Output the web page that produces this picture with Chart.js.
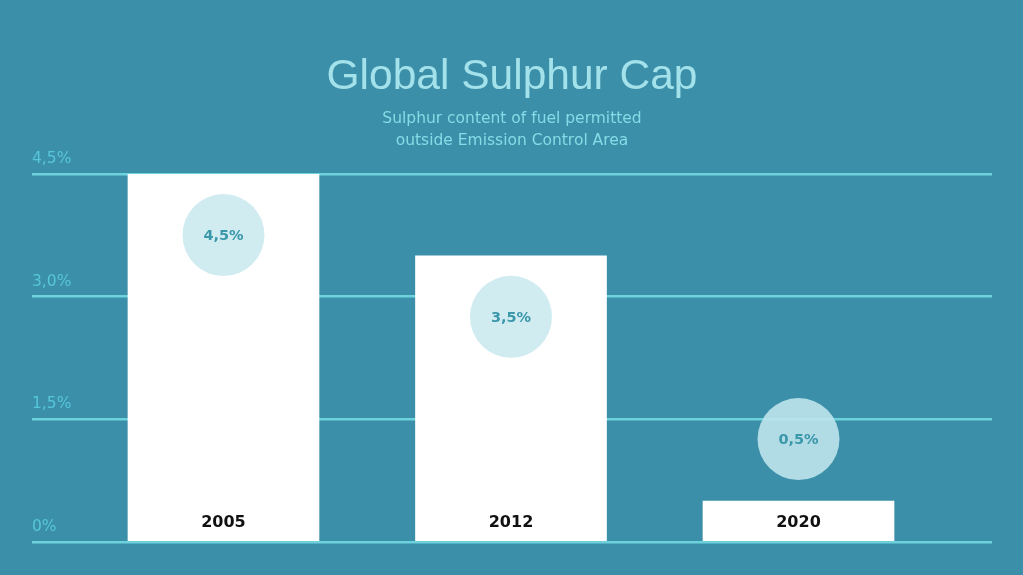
<!DOCTYPE html>
<html>
<head>
<meta charset="utf-8">
<script src="https://cdn.jsdelivr.net/npm/chart.js@4"></script>
<style>
  html, body { margin: 0; padding: 0; background: #3c8fa9; }
  #wrap { width: 1023px; height: 575px; }
</style>
</head>
<body>
<div id="wrap"><canvas id="c"></canvas></div>
<script>
const categories = ['2005', '2012', '2020'];
const sulphurCap = [4.5, 3.5, 0.5];
const bubbleLabels = ['4,5%', '3,5%', '0,5%'];
const yTickValues = [0, 1.5, 3.0, 4.5];
const yTickLabels = ['0%', '1,5%', '3,0%', '4,5%'];
const titleText = 'Global Sulphur Cap';
const subtitleLines = ['Sulphur content of fuel permitted', 'outside Emission Control Area'];

const overlay = {
  id: 'overlay',
  afterDatasetsDraw(chart) {
    const ctx = chart.ctx;
    const meta = chart.getDatasetMeta(0);
    const yScale = chart.scales.y;
    const base = yScale.getPixelForValue(0);
    meta.data.forEach((bar, i) => {
      ctx.save();
      ctx.fillStyle = '#111';
      ctx.font = 'bold 16px "DejaVu Sans", sans-serif';
      ctx.textAlign = 'center';
      ctx.textBaseline = 'middle';
      ctx.fillText(categories[i], bar.x, base - 19);
      const inside = (base - bar.y) > 120;
      const cy = inside ? bar.y + 61 : bar.y - 62;
      ctx.beginPath();
      ctx.arc(bar.x, cy, 41, 0, Math.PI * 2);
      ctx.fillStyle = inside ? 'rgba(190,228,236,0.72)' : 'rgba(190,228,236,0.9)';
      ctx.fill();
      ctx.fillStyle = '#3b97aa';
      ctx.font = 'bold 14.5px "DejaVu Sans", sans-serif';
      ctx.fillText(bubbleLabels[i], bar.x, cy + 1);
      ctx.restore();
    });
  }
};

new Chart(document.getElementById('c'), {
  type: 'bar',
  data: {
    datasets: [{
      data: sulphurCap.map((v, i) => ({ x: i, y: v })),
      backgroundColor: '#ffffff',
      borderWidth: 0,
      barThickness: 191
    }]
  },
  options: {
    responsive: true,
    maintainAspectRatio: false,
    animation: false,
    layout: { padding: { left: 32, right: 31, bottom: 33, top: 0 } },
    plugins: {
      legend: { display: false },
      tooltip: { enabled: false },
      title: {
        display: true,
        text: titleText,
        color: '#a3e2ea',
        font: { family: '"Liberation Sans", Arial, sans-serif', size: 42.5, weight: 'normal' },
        padding: { top: 52, bottom: 5 }
      },
      subtitle: {
        display: true,
        text: subtitleLines,
        color: '#86dbe6',
        font: { family: '"DejaVu Sans", sans-serif', size: 15.5, lineHeight: 1.42 },
        padding: { top: 0, bottom: 22 }
      }
    },
    scales: {
      x: {
        type: 'linear',
        display: false,
        offset: false,
        min: -0.666,
        max: 2.673
      },
      y: {
        min: 0,
        max: 4.5,
        afterBuildTicks(scale) {
          scale.ticks = yTickValues.map(v => ({ value: v }));
        },
        border: { display: false },
        grid: { color: '#6cd2dc', lineWidth: 2.5, drawTicks: false },
        ticks: {
          mirror: true,
          padding: 0,
          labelOffset: -15,
          color: '#56c6d9',
          font: { family: '"DejaVu Sans", sans-serif', size: 15.5 },
          callback(value) {
            const idx = yTickValues.indexOf(value);
            return idx >= 0 ? yTickLabels[idx] : '';
          }
        }
      }
    }
  },
  plugins: [overlay]
});
</script>
</body>
</html>
